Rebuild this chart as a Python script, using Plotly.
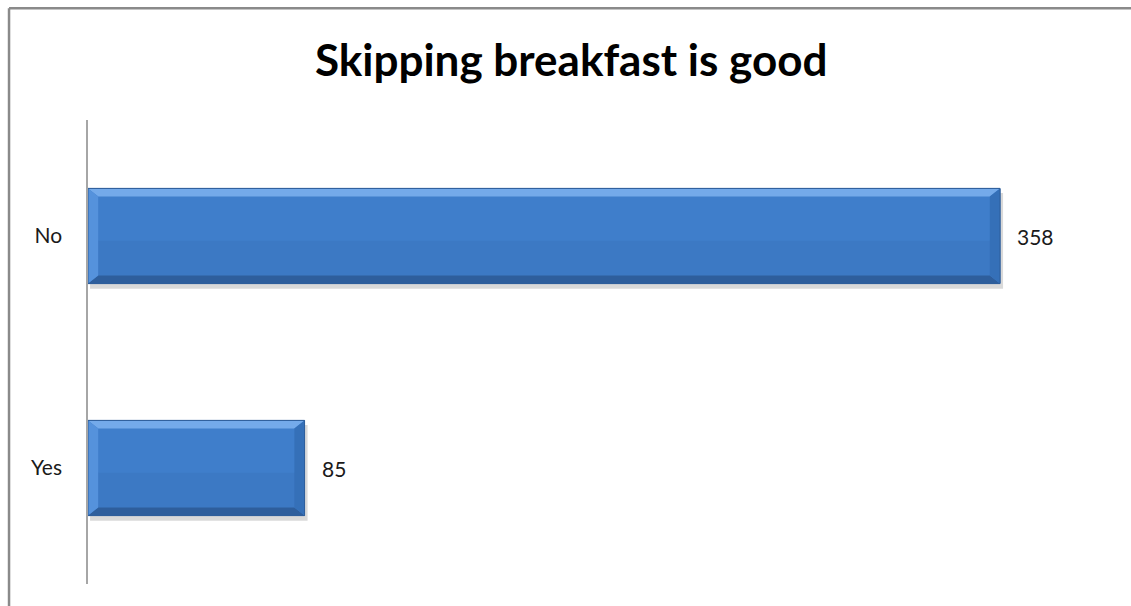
import plotly.graph_objects as go

# Survey answers (bottom to top on the chart)
categories = ["Yes", "No"]
counts = [85, 358]

title_text = "Skipping breakfast is good"

FACE = "#3f7ecb"
EDGE = "#2f5f9c"
BEVEL_TOP = "#74aaea"
BEVEL_SIDE = "#5592dc"
BEVEL_BOTTOM = "#2e5e9c"

bar_width = 0.41
pos = list(range(len(categories)))

fig = go.Figure()
fig.add_trace(go.Bar(
    x=counts,
    y=pos,
    orientation="h",
    width=bar_width,
    marker=dict(color=FACE, line=dict(color=EDGE, width=1)),
    hoverinfo="x+y",
    showlegend=False,
))

# Bevel facets and a soft shadow drawn around each bar from its value
shapes = []
dx = 4.0      # bevel depth along the value axis
dy = 0.035    # bevel depth along the category axis
h = bar_width / 2
for i, v in zip(pos, counts):
    top, bot = i + h, i - h
    # drop shadow
    shapes.append(dict(type="rect", xref="x", yref="y", layer="below",
                       x0=0.8, x1=v + 1.2, y0=bot - 0.022, y1=top - 0.02,
                       fillcolor="rgba(0,0,0,0.15)", line=dict(width=0)))
    # top highlight
    shapes.append(dict(type="path", xref="x", yref="y",
                       path=f"M0,{top} L{v},{top} L{v-dx},{top-dy} L{dx},{top-dy} Z",
                       fillcolor=BEVEL_TOP, line=dict(width=0)))
    # bottom shade
    shapes.append(dict(type="path", xref="x", yref="y",
                       path=f"M0,{bot} L{v},{bot} L{v-dx},{bot+dy} L{dx},{bot+dy} Z",
                       fillcolor=BEVEL_BOTTOM, line=dict(width=0)))
    # left and right facets
    shapes.append(dict(type="path", xref="x", yref="y",
                       path=f"M0,{top} L{dx},{top-dy} L{dx},{bot+dy} L0,{bot} Z",
                       fillcolor=BEVEL_SIDE, line=dict(width=0)))
    shapes.append(dict(type="path", xref="x", yref="y",
                       path=f"M{v},{top} L{v-dx},{top-dy} L{v-dx},{bot+dy} L{v},{bot} Z",
                       fillcolor="#3570b8", line=dict(width=0)))
    # lower half of the face slightly darker for a gentle gradient
    shapes.append(dict(type="rect", xref="x", yref="y",
                       x0=dx, x1=v - dx, y0=bot + dy, y1=i - 0.02,
                       fillcolor="rgba(40,80,140,0.10)", line=dict(width=0)))
    shapes.append(dict(type="rect", xref="x", yref="y",
                       x0=0, x1=v, y0=bot, y1=top,
                       fillcolor="rgba(0,0,0,0)", line=dict(color=EDGE, width=1)))

# Chart frame (top and left edges)
shapes.append(dict(type="line", xref="paper", yref="paper",
                   x0=-0.0775, x1=1.03, y0=1.241, y1=1.241,
                   line=dict(color="#8a8a8a", width=2.5)))
shapes.append(dict(type="line", xref="paper", yref="paper",
                   x0=-0.0775, x1=-0.0775, y0=1.241, y1=-0.05,
                   line=dict(color="#8a8a8a", width=2.5)))

annotations = [
    dict(x=v, y=i, xref="x", yref="y", text=str(v), showarrow=False,
         xanchor="left", xshift=15, font=dict(family="Lato", size=21, color="#1a1a1a"))
    for i, v in zip(pos, counts)
]

fig.update_layout(
    width=1131, height=606,
    margin=dict(l=88, r=24, t=120, b=22),
    paper_bgcolor="white", plot_bgcolor="white",
    title=dict(text=f"<b>{title_text}</b>", x=0.505, xanchor="center",
               y=0.9, yanchor="middle",
               font=dict(family="Lato", size=44, color="black")),
    shapes=shapes,
    annotations=annotations,
    xaxis=dict(range=[0, 400], visible=False, fixedrange=True),
    yaxis=dict(range=[-0.5, 1.5], tickvals=pos, ticktext=categories,
               showgrid=False, zeroline=False, showline=True,
               linecolor="#a6a6a6", linewidth=1.5, ticks="",
               ticklabelstandoff=20,
               tickfont=dict(family="Lato", size=21, color="#1a1a1a")),
)

fig.write_html("out.html")
